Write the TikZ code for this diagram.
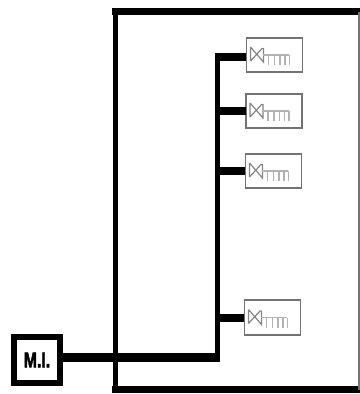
\documentclass[tikz,border=0pt]{standalone}
\usepackage{fontspec}
\setmainfont{Liberation Sans}
\newfontfamily\mifont[FakeBold=2.5]{Liberation Sans Bold}
\tikzset{
  px/.style={x=0.75pt,y=-0.75pt},
  unitbox/.style={draw=black!55,line width=1.3pt,fill=white,minimum width=42pt,minimum height=26pt,inner sep=0pt,outer sep=0pt},
  feeder/.style={line width=6pt},
  mainfeed/.style={line width=6.6pt},
  mibox/.style={draw=black,line width=4.6pt,fill=white,minimum width=35pt,minimum height=35pt,inner sep=0pt,font=\mifont\fontsize{12.5}{13}\selectfont},
  glyph/.style={draw=black!48,line width=0.9pt},
  glyphb/.style={draw=black!30,line width=0.8pt}
}
\newcommand{\unitglyph}[1]{%
  \draw[glyph,shift={(#1)}] (-24,-8) -- (-24,6) (-24,-8) -- (-11,7) (-24,6) -- (-12,-7) (-11,-7) -- (-11,8);
  \draw[glyphb,shift={(#1)}] (-11,0) -- (15,0) (-6,0) -- (-6,10) (0,0) -- (0,10) (5.5,0) -- (5.5,10) (10.5,0) -- (10.5,10) (15,0) -- (15,10);
}
\begin{document}
\begin{tikzpicture}[px]
\useasboundingbox (0,0) rectangle (360,394);
\fill[white] (0,0) rectangle (360,394);
\coordinate (otl) at (115.5,11.5);
\coordinate (obr) at (359,389.5);
\draw[line width=4.8pt,line cap=rect] (otl) -- (otl -| obr);
\draw[line width=5.4pt,line cap=rect] (otl |- obr) -- (obr);
\draw[line width=4.4pt] (otl) -- (otl |- obr);
\draw[line width=1.2pt,draw=black!55] (otl -| obr) -- (obr);
\node[unitbox] (u1) at (274.5,55) {};
\node[unitbox] (u2) at (274,111) {};
\node[unitbox] (u3) at (273.5,171) {};
\node[unitbox] (u4) at (272.5,317.5) {};
\node[mibox] (mi) at (37,360) {\scalebox{0.95}[1.3]{M.I.}};
\coordinate (bus) at (217.5,357.5);
\coordinate (bustop) at (217.5,57);
\draw[mainfeed] (mi.east |- bus) -- ([xshift=2pt]bus);
\draw[line width=4.4pt] ([yshift=3pt]bustop) -- (bus);
\draw[feeder] ([xshift=-2pt]bustop) -- (u1.west |- bustop);
\draw[feeder] (bus |- u2.west) -- (u2.west);
\draw[feeder] (bus |- u3.west) -- (u3.west);
\draw[feeder] (bus |- u4.west) -- (u4.west);
\unitglyph{u1}
\unitglyph{u2}
\unitglyph{u3}
\unitglyph{u4}
\end{tikzpicture}
\end{document}
